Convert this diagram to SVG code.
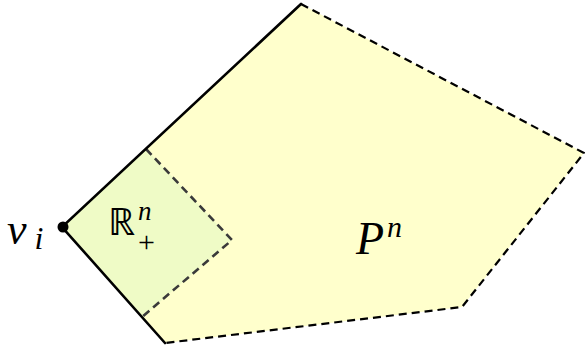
<svg xmlns="http://www.w3.org/2000/svg" width="585" height="350" viewBox="0 0 585 350">
<style>
.math{font-family:"Liberation Serif","Times New Roman",serif;fill:#000}
.it{font-style:italic}
.dash{fill:none;stroke:#000;stroke-width:2.2;stroke-dasharray:8,5}
.dashg{fill:none;stroke:#3a3a3a;stroke-width:2.6;stroke-dasharray:8,5}
.solid{fill:none;stroke:#000;stroke-width:2.6;stroke-linecap:round}
</style>
<g id="polytope">
<polygon points="62,227 301,4 584,153 462,307 165,343" fill="#ffffcc" stroke="none"/>
</g>
<g id="orthant">
<polygon points="62,227 146,149 232,240 142,317" fill="#effbc6" stroke="none"/>
</g>
<g id="edges">
<polyline class="dash" points="301,4 584,153 462,307 165,343"/>
<polyline class="dashg" points="146,149 232,240 142,317"/>
<polyline class="solid" points="301,4 62,227 165,343"/>
</g>
<g id="vertex">
<circle cx="63" cy="227" r="5.5" fill="#000"/>
<text class="math it" x="7" y="244" font-size="44">v<tspan font-size="32" dx="8" dy="5">i</tspan></text>
</g>
<g id="label-R">
<text class="math" x="108" y="235" font-size="38">ℝ</text>
<text class="math it" x="138" y="220" font-size="27">n</text>
<text class="math" x="138" y="252" font-size="30">+</text>
</g>
<g id="label-P">
<text class="math it" x="356" y="254" font-size="46">P<tspan font-size="30" dx="3" dy="-17">n</tspan></text>
</g>
</svg>
